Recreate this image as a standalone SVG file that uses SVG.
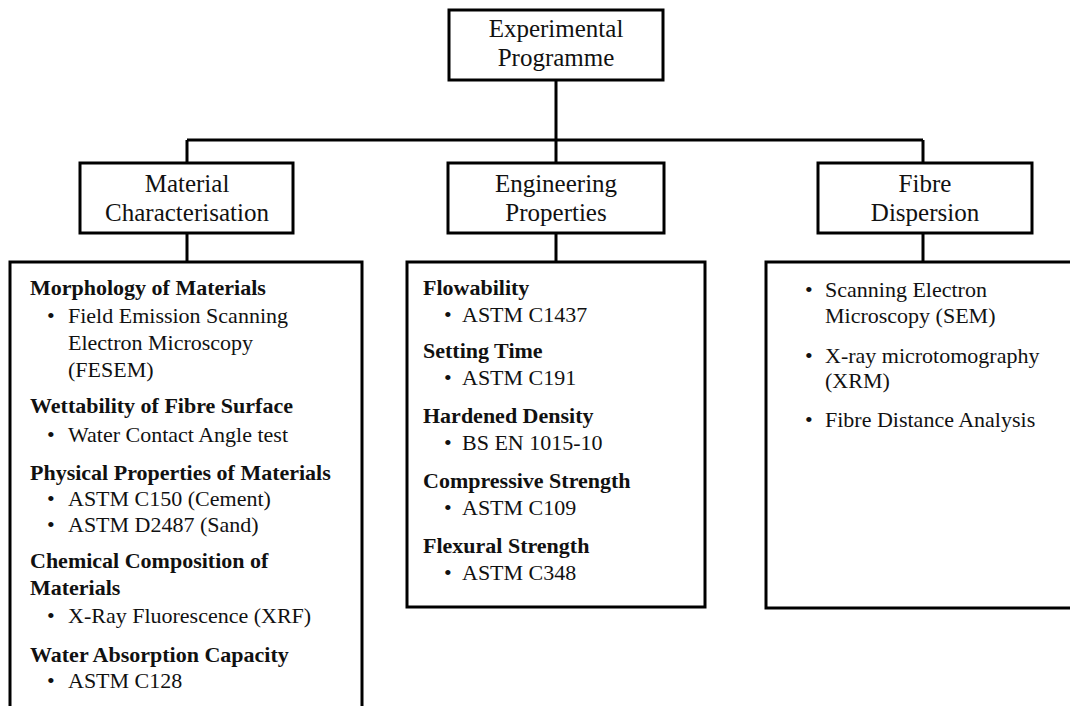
<svg xmlns="http://www.w3.org/2000/svg" width="1070" height="706" viewBox="0 0 1070 706">
<style>
.box{fill:#fff;stroke:#000;stroke-width:3}
.conn{fill:none;stroke:#000;stroke-width:3}
.hd{font-family:"Liberation Serif","Times New Roman",serif;font-size:25px;fill:#111;text-anchor:middle}
.b{font-family:"Liberation Serif","Times New Roman",serif;font-size:22px;fill:#111;font-weight:bold}
.t{font-family:"Liberation Serif","Times New Roman",serif;font-size:22px;fill:#111}
</style>
<rect width="1070" height="706" fill="#fff"/>
<g id="connectors">
<path class="conn" d="M556 80V140M187 140H923M187 140V163M556 140V163M923 140V163M187 233V262M556 233V262M923 233V262"/>
</g>
<g id="top">
<rect class="box" x="449" y="10" width="214" height="70"/>
<text class="hd" x="556" y="37">Experimental</text>
<text class="hd" x="556" y="66">Programme</text>
</g>
<g id="material">
<rect class="box" x="80" y="163" width="213" height="70"/>
<text class="hd" x="187" y="192">Material</text>
<text class="hd" x="187" y="221">Characterisation</text>
</g>
<g id="engineering">
<rect class="box" x="448" y="163" width="216" height="70"/>
<text class="hd" x="556" y="192">Engineering</text>
<text class="hd" x="556" y="221">Properties</text>
</g>
<g id="fibre">
<rect class="box" x="818" y="163" width="214" height="70"/>
<text class="hd" x="925" y="192">Fibre</text>
<text class="hd" x="925" y="221">Dispersion</text>
</g>
<g id="material-details">
<rect class="box" x="10" y="262" width="352" height="460"/>
<text class="b" x="30" y="295">Morphology of Materials</text>
<text class="t" x="47" y="323">•</text><text class="t" x="68" y="323">Field Emission Scanning</text>
<text class="t" x="68" y="350">Electron Microscopy</text>
<text class="t" x="68" y="377">(FESEM)</text>
<text class="b" x="30" y="413">Wettability of Fibre Surface</text>
<text class="t" x="47" y="442">•</text><text class="t" x="68" y="442">Water Contact Angle test</text>
<text class="b" x="30" y="480">Physical Properties of Materials</text>
<text class="t" x="47" y="506">•</text><text class="t" x="68" y="506">ASTM C150 (Cement)</text>
<text class="t" x="47" y="532">•</text><text class="t" x="68" y="532">ASTM D2487 (Sand)</text>
<text class="b" x="30" y="568">Chemical Composition of</text>
<text class="b" x="30" y="595">Materials</text>
<text class="t" x="47" y="623">•</text><text class="t" x="68" y="623">X-Ray Fluorescence (XRF)</text>
<text class="b" x="30" y="662">Water Absorption Capacity</text>
<text class="t" x="47" y="688">•</text><text class="t" x="68" y="688">ASTM C128</text>
</g>
<g id="engineering-details">
<rect class="box" x="407" y="262" width="298" height="345"/>
<text class="b" x="423" y="295">Flowability</text>
<text class="t" x="444" y="322">•</text><text class="t" x="462" y="322">ASTM C1437</text>
<text class="b" x="423" y="358">Setting Time</text>
<text class="t" x="444" y="385">•</text><text class="t" x="462" y="385">ASTM C191</text>
<text class="b" x="423" y="423">Hardened Density</text>
<text class="t" x="444" y="450">•</text><text class="t" x="462" y="450">BS EN 1015-10</text>
<text class="b" x="423" y="488">Compressive Strength</text>
<text class="t" x="444" y="515">•</text><text class="t" x="462" y="515">ASTM C109</text>
<text class="b" x="423" y="553">Flexural Strength</text>
<text class="t" x="444" y="580">•</text><text class="t" x="462" y="580">ASTM C348</text>
</g>
<g id="fibre-details">
<rect class="box" x="766" y="262" width="320" height="346"/>
<text class="t" x="805" y="297">•</text><text class="t" x="825" y="297">Scanning Electron</text>
<text class="t" x="825" y="323">Microscopy (SEM)</text>
<text class="t" x="805" y="363">•</text><text class="t" x="825" y="363">X-ray microtomography</text>
<text class="t" x="825" y="388">(XRM)</text>
<text class="t" x="805" y="427">•</text><text class="t" x="825" y="427">Fibre Distance Analysis</text>
</g>
</svg>
